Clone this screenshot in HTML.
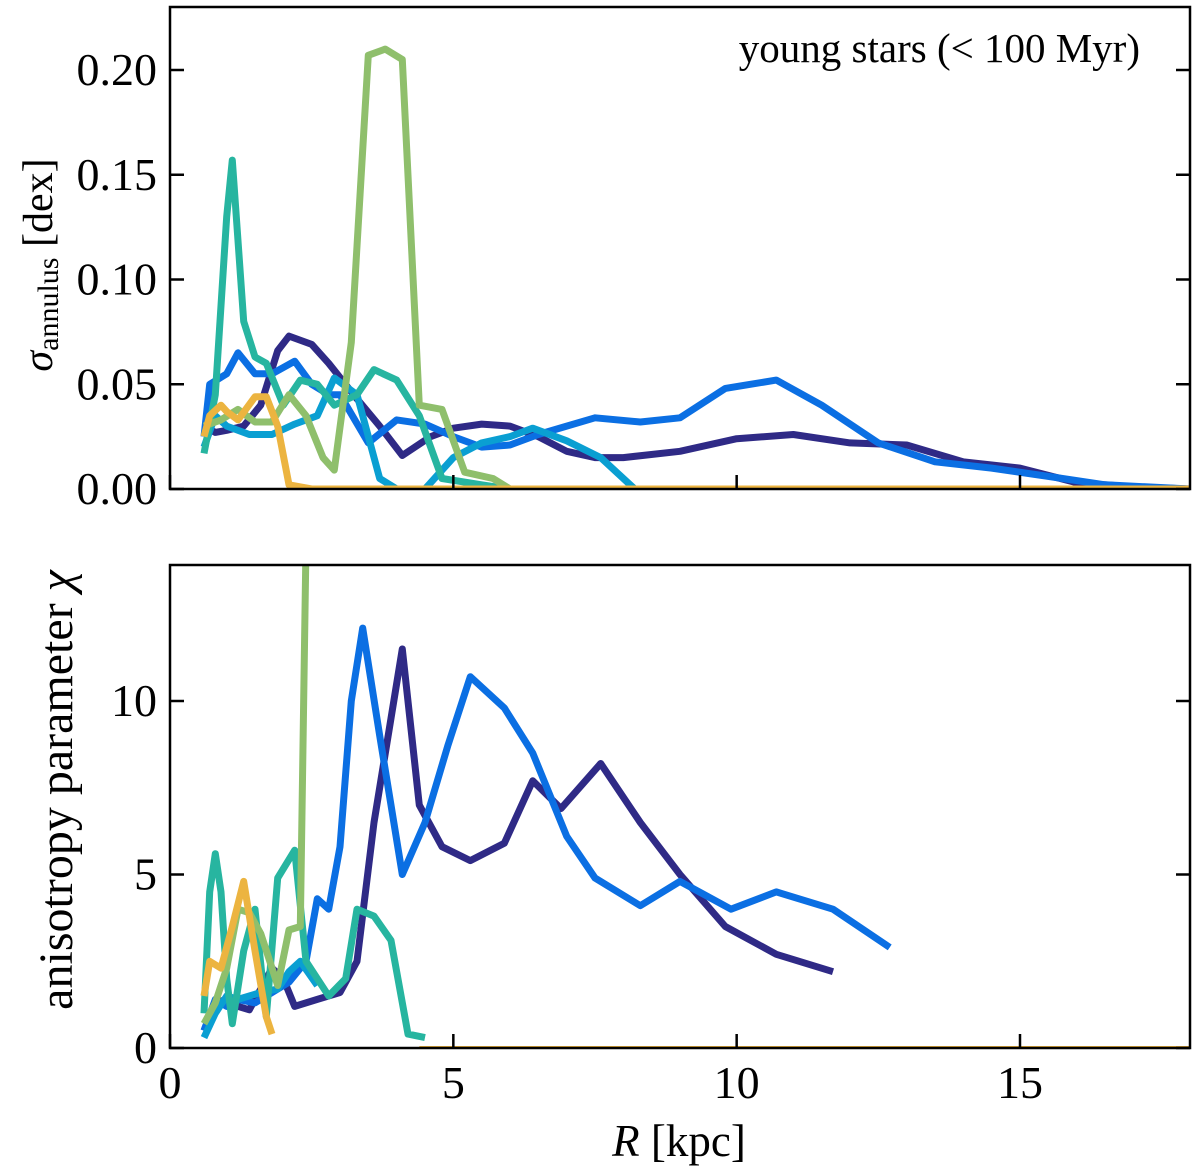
<!DOCTYPE html>
<html><head><meta charset="utf-8"><style>
body{margin:0;background:#fff}
svg{display:block}
text{font-family:"Liberation Serif",serif;fill:#000}
</style></head><body>
<svg id="chart" width="1200" height="1173" viewBox="0 0 1200 1173">
<defs>
<clipPath id="c1"><rect x="170" y="7" width="1020" height="482"/></clipPath>
<clipPath id="c2"><rect x="170" y="565" width="1020" height="483"/></clipPath>
</defs>
<g id="topPanel"></g>
<g id="botPanel"></g>
</svg>
<script>
const colors=["#2f2a86","#0b6fe3","#0a9fd2","#27b5a0","#8fbf6c","#ecb440"];
const seriesNames=["navy","blue","lightblue","teal","green","orange"];
const topX=[
[0.6,0.8,1.0,1.3,1.6,1.9,2.1,2.5,2.8,3.3,3.7,4.1,4.6,5.0,5.5,6.0,6.5,7.0,7.5,8.0,9.0,10.0,11.0,12.0,13.0,14.0,15.0,16.0,17,18],
[0.6,0.7,1.0,1.2,1.5,1.8,2.2,2.5,2.8,3.0,3.5,4.0,4.5,5.0,5.5,6.0,6.5,7.0,7.5,8.3,9.0,9.8,10.7,11.5,12.5,13.5,14.5,15.5,16.5,18],
[0.6,0.8,1.0,1.4,1.8,2.2,2.6,2.9,3.3,3.7,4.0,4.5,5.0,5.5,6.0,6.4,7.0,7.6,8.2,18],
[0.6,0.8,1.0,1.1,1.3,1.5,1.7,2.0,2.3,2.6,2.9,3.3,3.6,4.0,4.4,4.8,5.5,6.0,18],
[0.6,0.9,1.2,1.5,1.8,2.1,2.4,2.7,2.9,3.2,3.5,3.8,4.1,4.4,4.8,5.2,5.7,6.0,18],
[0.6,0.7,0.9,1.0,1.2,1.5,1.7,1.9,2.1,2.5,18]];
const topY=[
[0.03,0.027,0.028,0.03,0.04,0.066,0.073,0.069,0.06,0.043,0.03,0.016,0.025,0.029,0.031,0.03,0.025,0.018,0.015,0.015,0.018,0.024,0.026,0.022,0.021,0.013,0.01,0.003,0.001,0],
[0.025,0.05,0.055,0.065,0.055,0.055,0.061,0.05,0.045,0.045,0.022,0.033,0.031,0.025,0.02,0.021,0.026,0.03,0.034,0.032,0.034,0.048,0.052,0.04,0.022,0.013,0.01,0.006,0.002,0],
[0.02,0.035,0.03,0.026,0.026,0.031,0.035,0.053,0.045,0.005,0,0,0.015,0.022,0.025,0.029,0.023,0.015,0,0],
[0.017,0.045,0.13,0.157,0.08,0.063,0.06,0.04,0.052,0.05,0.04,0.045,0.057,0.052,0.035,0.005,0.002,0,0],
[0.03,0.033,0.038,0.032,0.032,0.045,0.035,0.015,0.009,0.07,0.207,0.21,0.205,0.04,0.038,0.008,0.005,0,0],
[0.025,0.035,0.04,0.037,0.033,0.044,0.044,0.03,0.002,0,0]];
const botX=[
[0.6,0.8,1.0,1.2,1.4,1.6,1.8,2.0,2.2,2.6,3.0,3.3,3.6,3.9,4.1,4.4,4.8,5.3,5.9,6.4,6.9,7.6,8.3,9.0,9.8,10.7,11.7],
[0.6,0.8,1.0,1.2,1.5,1.8,2.1,2.4,2.6,2.8,3.0,3.2,3.4,3.7,4.1,4.5,4.9,5.3,5.9,6.4,7.0,7.5,8.3,9.0,9.9,10.7,11.7,12.7],
[0.6,0.8,1.0,1.2,1.6,1.9,2.1,2.3,2.6],
[0.6,0.7,0.8,0.9,1.0,1.1,1.3,1.5,1.7,1.9,2.2,2.4,2.8,3.1,3.3,3.6,3.9,4.2,4.5],
[0.6,0.8,1.0,1.2,1.4,1.6,1.9,2.1,2.3,2.4],
[0.6,0.7,0.9,1.1,1.3,1.5,1.7,1.8]];
const botY=[
[0.5,1.3,1.4,1.2,1.1,1.7,2.3,2.0,1.2,1.4,1.6,2.5,6.5,9.5,11.5,7.0,5.8,5.4,5.9,7.7,6.9,8.2,6.5,5.0,3.5,2.7,2.2],
[0.5,1.4,1.2,1.4,1.3,1.6,1.9,2.5,4.3,4.0,5.8,10,12.1,9,5,6.5,8.7,10.7,9.8,8.5,6.1,4.9,4.1,4.8,4.0,4.5,4.0,2.9],
[0.3,1.0,1.5,1.4,1.6,1.7,2.2,2.5,1.8],
[1.0,4.5,5.6,4.5,2.0,0.7,2.8,4.0,0.9,4.9,5.7,2.5,1.5,2.0,4.0,3.8,3.1,0.4,0.3],
[0.7,1.3,2.3,4.0,3.9,3.3,1.8,3.4,3.5,14.5],
[1.5,2.5,2.3,3.5,4.8,2.8,0.9,0.4]];
const xTicks=[0,5,10,15];
const topTicks=[0,0.05,0.10,0.15,0.20];
const botTicks=[0,5,10];
const NS="http://www.w3.org/2000/svg";
const L=170,R=1190;
const xs=v=>L+(v/18)*(R-L);
const ys1=v=>489-v*2095;
const ys2=v=>1048-v*34.7;
function mk(p,t,a){const e=document.createElementNS(NS,t);for(const k in a)e.setAttribute(k,a[k]);p.appendChild(e);return e;}
function panel(g,yT,yB,ysf,X,Y,ticks,fmt,clip,extra){
  const lines=mk(g,"g",{"clip-path":"url(#"+clip+")"});
  for(let s=0;s<X.length;s++){
    const pts=X[s].map((x,i)=>xs(x).toFixed(1)+","+ysf(Y[s][i]).toFixed(1)).join(" ");
    const pl=mk(lines,"polyline",{points:pts,fill:"none",stroke:colors[s],"stroke-width":7,"stroke-linejoin":"round"});
    
    
  }
  if(extra){const z=mk(lines,"line",{x1:xs(extra),x2:xs(18),y1:ysf(0),y2:ysf(0),stroke:colors[5],"stroke-width":4});
    
    }
  const fr=mk(g,"rect",{x:L,y:yT,width:R-L,height:yB-yT,fill:"none",stroke:"#000","stroke-width":2.5});
  
  
  for(const t of ticks){const y=ysf(t);
    mk(g,"line",{x1:L,x2:L+14,y1:y,y2:y,stroke:"#000","stroke-width":2.5});
    mk(g,"line",{x1:R,x2:R-14,y1:y,y2:y,stroke:"#000","stroke-width":2.5});
    const tx=mk(g,"text",{x:L-13,y:y+15,"font-size":46,"text-anchor":"end"});tx.textContent=fmt(t);
    
    }
  for(const t of xTicks){const x=xs(t);
    mk(g,"line",{x1:x,x2:x,y1:yB,y2:yB-14,stroke:"#000","stroke-width":2.5});}
}
const topG=document.getElementById("topPanel"),botG=document.getElementById("botPanel");
panel(topG,7,489,ys1,topX,topY,topTicks,t=>t.toFixed(2),"c1",2.1);
panel(botG,565,1048,ys2,botX,botY,botTicks,t=>String(t),"c2",4.4);
for(const t of xTicks){const tx=mk(botG,"text",{x:xs(t),y:1098,"font-size":46,"text-anchor":"middle"});tx.textContent=t;
  
  }
</script>
<div style="position:absolute;left:0;top:0;width:1200px;height:1173px;pointer-events:none">
<svg width="1200" height="1173" style="position:absolute;left:0;top:0">
<text x="1140" y="62" font-size="41" text-anchor="end">young stars (&lt; 100 Myr)</text>
<text transform="translate(52,265) rotate(-90)" font-size="42" text-anchor="middle"><tspan font-style="italic">σ</tspan><tspan font-size="30" dy="6">annulus</tspan><tspan dy="-6"> [dex]</tspan></text>
<text transform="translate(72,790) rotate(-90)" font-size="48" text-anchor="middle">anisotropy parameter <tspan font-style="italic">χ</tspan></text>
<text x="679" y="1156" font-size="45" text-anchor="middle"><tspan font-style="italic">R</tspan> [kpc]</text>
</svg></div>
</body></html>
